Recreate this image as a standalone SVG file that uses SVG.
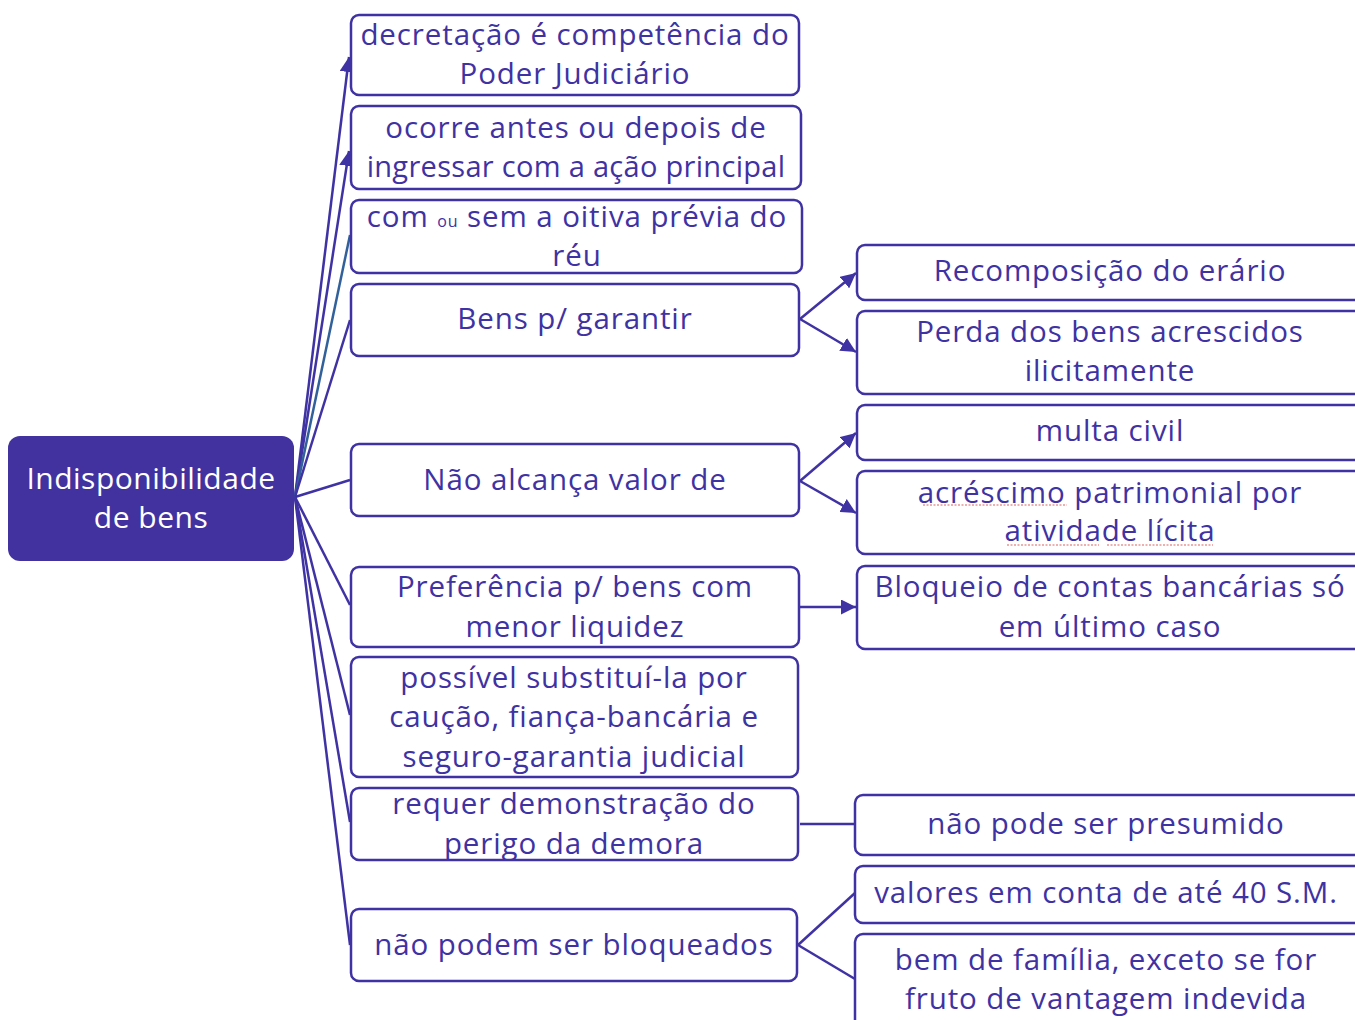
<svg xmlns="http://www.w3.org/2000/svg" width="1355" height="1020" viewBox="0 0 1355 1020">
<style>
.b{fill:#fff;stroke:#3F32A2;stroke-width:2.5}
.t{font-family:"Open Sans",Lato,sans-serif;font-size:29.5px;letter-spacing:0.9px;fill:#3F32A2;text-anchor:middle}
.w{font-family:"Open Sans",Lato,sans-serif;font-size:30px;letter-spacing:0.5px;fill:#fff;text-anchor:middle}
.c{stroke:#3F32A2;stroke-width:2.5;fill:none}
.sq{stroke:#E06060;stroke-width:1.2;stroke-dasharray:2 1.5;fill:none}
</style>
<defs>
<marker id="ah" viewBox="0 0 10 10" refX="10" refY="5" markerWidth="6" markerHeight="6" markerUnits="strokeWidth" orient="auto">
<path d="M0,0 L10,5 L0,10 z" fill="#3F32A2"/>
</marker>
</defs>
<g id="connectors">
<path class="c" d="M295,497 L349,57" marker-end="url(#ah)"/>
<path class="c" d="M295,497 L349,151" marker-end="url(#ah)"/>
<path d="M295,497 L350,235" stroke="#31609A" stroke-width="2.5" fill="none"/>
<path class="c" d="M295,497 L350,320"/>
<path class="c" d="M295,497 L350,480"/>
<path class="c" d="M295,497 L350,605"/>
<path class="c" d="M295,497 L350,715"/>
<path class="c" d="M295,497 L350,822"/>
<path class="c" d="M295,497 L350,945"/>
<path class="c" d="M800,319 L856,273" marker-end="url(#ah)"/>
<path class="c" d="M800,319 L856,352" marker-end="url(#ah)"/>
<path class="c" d="M800,481 L856,433" marker-end="url(#ah)"/>
<path class="c" d="M800,481 L856,513" marker-end="url(#ah)"/>
<path class="c" d="M800,607 L856,607" marker-end="url(#ah)"/>
<path class="c" d="M800,824 L855,824"/>
<path class="c" d="M798,945 L855,893"/>
<path class="c" d="M798,945 L855,979"/>
</g>
<g id="root">
<rect x="8" y="436" width="286" height="125" rx="12" fill="#4232A0"/>
<text class="w" x="151" y="489">Indisponibilidade</text>
<text class="w" x="151" y="528">de bens</text>
</g>
<g id="n1"><rect class="b" x="351" y="15" width="448" height="80" rx="8"/>
<text class="t" x="575" y="45">decretação é competência do</text>
<text class="t" x="575" y="84">Poder Judiciário</text></g>
<g id="n2"><rect class="b" x="351" y="106" width="450" height="83" rx="8"/>
<text class="t" x="576" y="138">ocorre antes ou depois de</text>
<text class="t" x="576" y="177" style="letter-spacing:0.3px;font-size:29px">ingressar com a ação principal</text></g>
<g id="n3"><rect class="b" x="351" y="200" width="451" height="73" rx="8"/>
<text class="t" x="577" y="227">com <tspan font-size="16">ou</tspan> sem a oitiva prévia do</text>
<text class="t" x="577" y="266">réu</text></g>
<g id="n4"><rect class="b" x="351" y="284" width="448" height="72" rx="8"/>
<text class="t" x="575" y="329">Bens p/ garantir</text></g>
<g id="n5"><rect class="b" x="351" y="444" width="448" height="72" rx="8"/>
<text class="t" x="575" y="490">Não alcança valor de</text></g>
<g id="n6"><rect class="b" x="351" y="567" width="448" height="80" rx="8"/>
<text class="t" x="575" y="597">Preferência p/ bens com</text>
<text class="t" x="575" y="637">menor liquidez</text></g>
<g id="n7"><rect class="b" x="351" y="657" width="447" height="120" rx="8"/>
<text class="t" x="574" y="688">possível substituí-la por</text>
<text class="t" x="574" y="727">caução, fiança-bancária e</text>
<text class="t" x="574" y="767">seguro-garantia judicial</text></g>
<g id="n8"><rect class="b" x="351" y="788" width="447" height="72" rx="8"/>
<text class="t" x="574" y="814">requer demonstração do</text>
<text class="t" x="574" y="854">perigo da demora</text></g>
<g id="n9"><rect class="b" x="351" y="909" width="446" height="72" rx="8"/>
<text class="t" x="574" y="955">não podem ser bloqueados</text></g>
<g id="r1"><rect class="b" x="857" y="245" width="508" height="55" rx="8"/>
<text class="t" x="1110" y="281">Recomposição do erário</text></g>
<g id="r2"><rect class="b" x="857" y="311" width="508" height="83" rx="8"/>
<text class="t" x="1110" y="342">Perda dos bens acrescidos</text>
<text class="t" x="1110" y="381">ilicitamente</text></g>
<g id="r3"><rect class="b" x="857" y="405" width="508" height="55" rx="8"/>
<text class="t" x="1110" y="441">multa civil</text></g>
<g id="r4"><rect class="b" x="857" y="471" width="508" height="83" rx="8"/>
<text class="t" x="1110" y="503">acréscimo patrimonial por</text>
<text class="t" x="1110" y="541">atividade lícita</text>
<path class="sq" d="M923,505 H1067 M1007,545 H1099 M1107,545 H1213"/></g>
<g id="r5"><rect class="b" x="857" y="566" width="508" height="83" rx="8"/>
<text class="t" x="1110" y="597">Bloqueio de contas bancárias só</text>
<text class="t" x="1110" y="637">em último caso</text></g>
<g id="r6"><rect class="b" x="855" y="795" width="510" height="60" rx="8"/>
<text class="t" x="1106" y="834">não pode ser presumido</text></g>
<g id="r7"><rect class="b" x="855" y="866" width="510" height="57" rx="8"/>
<text class="t" x="1106" y="903">valores em conta de até 40 S.M.</text></g>
<g id="r8"><rect class="b" x="855" y="934" width="510" height="100" rx="8"/>
<text class="t" x="1106" y="970">bem de família, exceto se for</text>
<text class="t" x="1106" y="1009">fruto de vantagem indevida</text></g>
</svg>
